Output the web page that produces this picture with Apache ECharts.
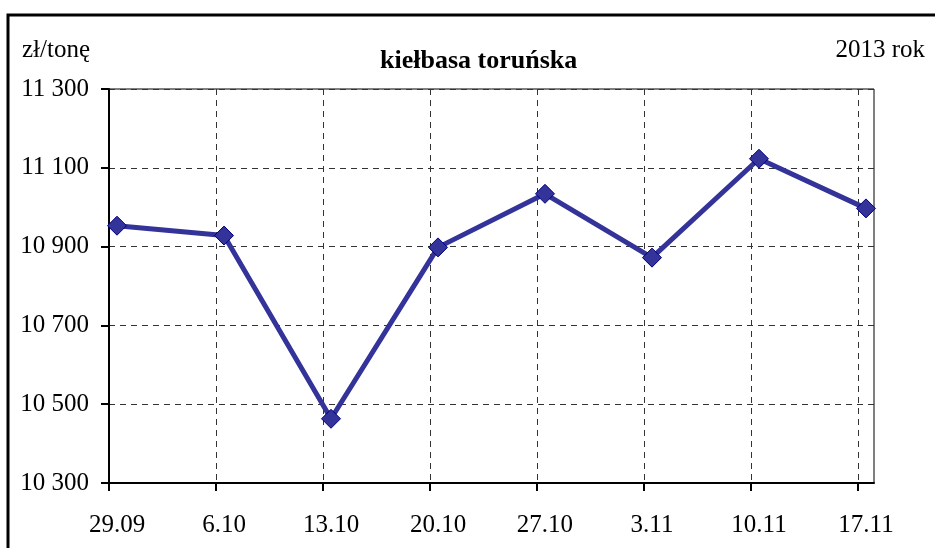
<!DOCTYPE html>
<html>
<head>
<meta charset="utf-8">
<script src="https://cdn.jsdelivr.net/npm/echarts@6/dist/echarts.min.js"></script>
<style>
  html, body { margin: 0; padding: 0; background: #fff; }
  #main { width: 935px; height: 548px; }
</style>
</head>
<body>
<div id="main"></div>
<script>
// dane z wykresu
var weeks = ['29.09', '6.10', '13.10', '20.10', '27.10', '3.11', '10.11', '17.11'];
var prices = [10953, 10928, 10463, 10898, 11034, 10872, 11123, 10997];
var yTicks = [10300, 10500, 10700, 10900, 11100, 11300];

var font = '"Liberation Serif", "Times New Roman", serif';
var shift = 0.075;   // punkty lekko na prawo od linii siatki (jak w Excelu)

var chart = echarts.init(document.getElementById('main'));

var option = {
  animation: false,
  graphic: [{
    type: 'rect',
    shape: { x: 8, y: 15, width: 950, height: 600 },
    style: { fill: 'none', stroke: '#000', lineWidth: 3 },
    silent: true
  }],
  title: [
    { text: 'zł/tonę', left: 17, top: 33,
      textStyle: { fontFamily: font, fontSize: 25, fontWeight: 'normal', color: '#000' } },
    { text: 'kiełbasa toruńska', left: 375, top: 43,
      textStyle: { fontFamily: font, fontSize: 26, fontWeight: 'bold', color: '#000' } },
    { text: '2013 rok', right: 5, top: 33,
      textStyle: { fontFamily: font, fontSize: 25, fontWeight: 'normal', color: '#000' } }
  ],
  grid: {
    left: 109, top: 89, right: 61, bottom: 65,
    show: true, borderColor: '#000', borderWidth: 1
  },
  xAxis: {
    type: 'value',
    min: 0,
    max: 7.15,
    interval: 1,
    axisLine: { lineStyle: { color: '#000', width: 2 } },
    axisTick: { show: true, length: 8, inside: false,
      customValues: weeks.map(function (w, i) { return i; }),
      lineStyle: { color: '#000', width: 2 } },
    axisLabel: {
      customValues: weeks.map(function (w, i) { return i + shift; }),
      formatter: function (v) { return weeks[Math.round(v - shift)] || ''; },
      fontFamily: font, fontSize: 25, color: '#000', margin: 30
    },
    splitLine: { show: true, lineStyle: { color: '#333', type: [6, 5], width: 1 } }
  },
  yAxis: {
    type: 'value',
    min: yTicks[0],
    max: yTicks[yTicks.length - 1],
    interval: 200,
    axisLine: { show: true, lineStyle: { color: '#000', width: 2 } },
    axisTick: { show: true, length: 8, inside: false, lineStyle: { color: '#000', width: 2 } },
    axisLabel: {
      fontFamily: font, fontSize: 25, color: '#000', margin: 20,
      formatter: function (v) { return String(v).replace(/\B(?=(\d{3})+(?!\d))/g, ' '); }
    },
    splitLine: { show: true, lineStyle: { color: '#333', type: [6, 5], width: 1 } }
  },
  series: [{
    type: 'line',
    data: prices.map(function (p, i) { return [i + shift, p]; }),
    symbol: 'diamond',
    symbolSize: 19,
    lineStyle: { color: '#333399', width: 5 },
    itemStyle: { color: '#333399', borderColor: '#000080', borderWidth: 1 },
    z: 5
  }]
};

chart.setOption(option);
</script>
</body>
</html>
